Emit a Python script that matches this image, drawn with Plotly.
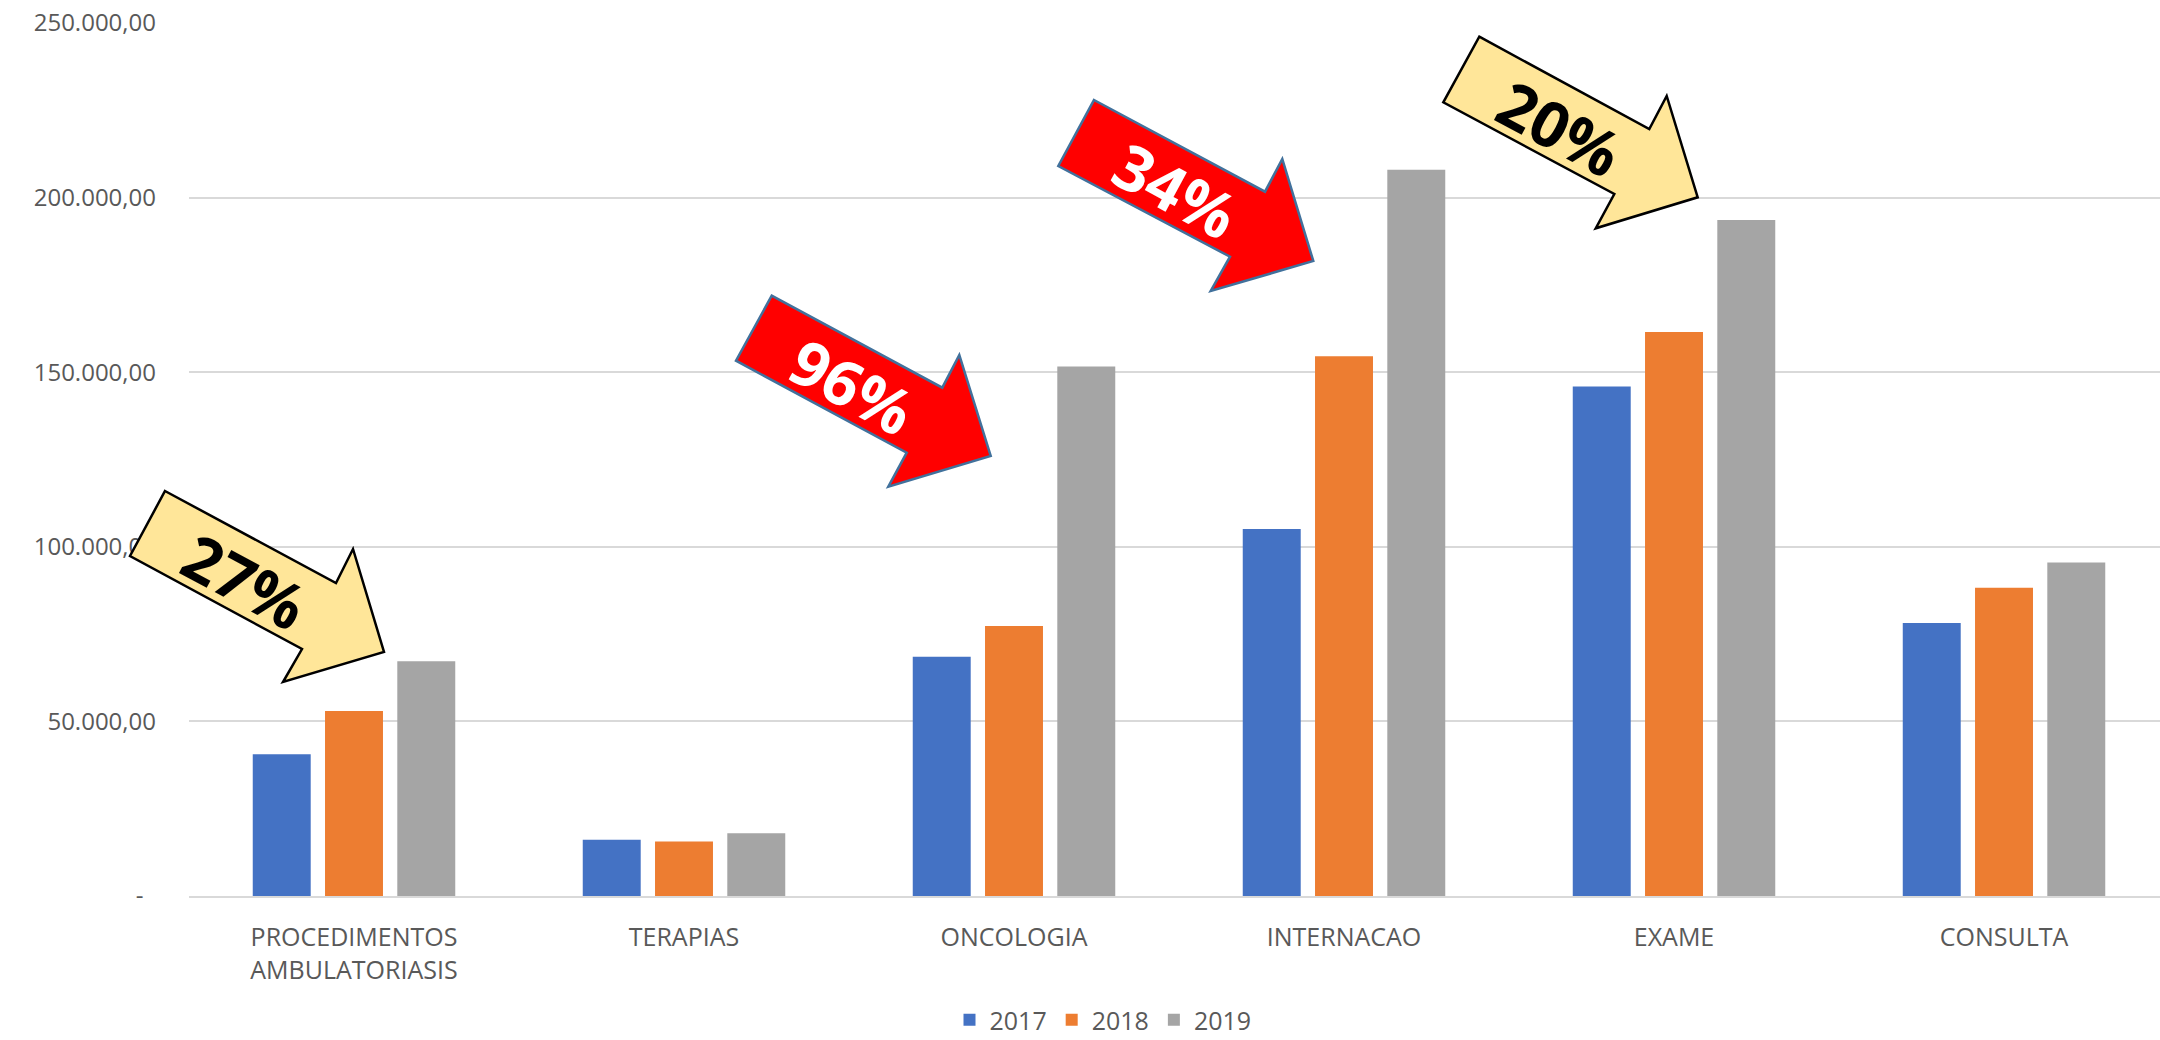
import plotly.graph_objects as go

categories = ["PROCEDIMENTOS<br>AMBULATORIASIS", "TERAPIAS", "ONCOLOGIA", "INTERNACAO", "EXAME", "CONSULTA"]
years = ["2017", "2018", "2019"]
v2017 = [40600, 16100, 68500, 105100, 145900, 78200]
v2018 = [53000, 15600, 77300, 154600, 161500, 88300]
v2019 = [67200, 18000, 151600, 208000, 193600, 95500]
colors = ["#4472C4", "#ED7D31", "#A5A5A5"]
ytick_vals = [0, 50000, 100000, 150000, 200000, 250000]
ytick_text = ["-\u00a0\u00a0", "50.000,00", "100.000,00", "150.000,00", "200.000,00", "250.000,00"]

callout_labels = ["27%", "96%", "34%", "20%"]

W, H = 2160, 1040
L, R, T, B = 189, 0, 23, 144
PW, PH = W - L - R, H - T - B


def px(x, y):
    return (x - L) / PW, (H - B - y) / PH


arrows_px = [
    [(165, 491), (336, 583), (353, 549), (384, 652), (283, 682), (302, 649), (130, 556)],
    [(771.7, 295.7), (942.3, 387.7), (959.3, 355), (990.7, 456), (888.3, 486.7), (906.7, 452.7), (736, 360.7)],
    [(1094, 100), (1265, 191.7), (1282.3, 159), (1313.3, 261), (1210.7, 291), (1230, 256.7), (1058.3, 166)],
    [(1479.3, 36.7), (1649.3, 129), (1666.7, 96), (1697.7, 197.3), (1595.7, 228.3), (1614.3, 194), (1443.3, 102.3)],
]
text_px = [(245, 580), (852, 386), (1176, 189), (1560, 127)]
fills = ["#FFE699", "#FF0000", "#FF0000", "#FFE699"]
lines = ["#000000", "#41719C", "#41719C", "#000000"]
txtcol = ["#000000", "#FFFFFF", "#FFFFFF", "#000000"]

fig = go.Figure()
for name, vals, c in zip(years, [v2017, v2018, v2019], colors):
    fig.add_trace(go.Bar(name=name, x=categories, y=vals, marker=dict(color=c, line=dict(width=0))))

shapes = []
annotations = []
for pts, f, lc, tp, lab, tc in zip(arrows_px, fills, lines, text_px, callout_labels, txtcol):
    path = "M " + " L ".join("%.5f,%.5f" % px(x, y) for x, y in pts) + " Z"
    shapes.append(dict(type="path", xref="paper", yref="paper", path=path,
                       fillcolor=f, line=dict(color=lc, width=2.5), layer="above"))
    ax, ay = px(*tp)
    annotations.append(dict(x=ax, y=ay, xref="paper", yref="paper", text="<b>%s</b>" % lab,
                            showarrow=False, textangle=28.3, xanchor="center", yanchor="middle",
                            font=dict(family="Open Sans", size=63, color=tc)))

leg_x, _ = px(1103, 0)
_, leg_y = px(0, 1020)

fig.update_layout(
    width=W, height=H,
    margin=dict(l=L, r=R, t=T, b=B, pad=0, autoexpand=False),
    paper_bgcolor="white", plot_bgcolor="white",
    barmode="group", bargap=0.343, bargroupgap=0.198,
    font=dict(family="Open Sans", size=25, color="#595959"),
    showlegend=True,
    legend=dict(orientation="h", x=leg_x, y=leg_y, xanchor="center", yanchor="middle",
                font=dict(size=25, color="#595959"), bgcolor="rgba(0,0,0,0)"),
    xaxis=dict(range=[-0.5, 5.4727], showline=True, linecolor="#D9D9D9", linewidth=2,
               showgrid=False, ticks="", tickfont=dict(size=25, color="#595959"), ticklabelstandoff=18,
               automargin=False),
    yaxis=dict(range=[0, 250000], tickvals=ytick_vals, ticktext=ytick_text, showgrid=True,
               gridcolor="#D9D9D9", gridwidth=2, zeroline=False, showline=False, ticks="",
               tickfont=dict(size=24, color="#595959"), ticklabelstandoff=32, automargin=False),
    shapes=shapes, annotations=annotations,
)

fig.write_html("out.html", config={"displayModeBar": False},
               post_script="document.body.style.margin='0';document.body.style.overflow='hidden';")
